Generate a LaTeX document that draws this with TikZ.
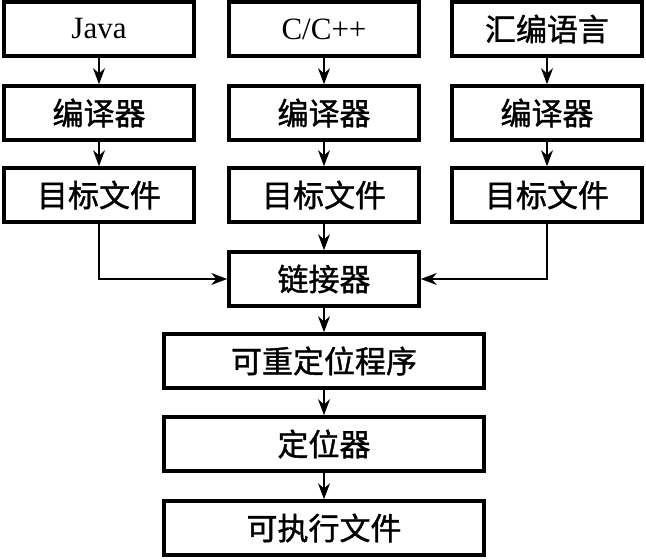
\documentclass[tikz,border=0pt]{standalone}
\usepackage{fontspec}
\setmainfont{Liberation Serif}
\newfontfamily\cjk[FakeBold=1.2]{Noto Sans CJK SC}
\usetikzlibrary{arrows.meta}

\tikzset{
  caja/.style={draw, line width=1.8pt, minimum width=95pt, minimum height=27pt,
    inner sep=0pt, font=\fontsize{15.5}{18}\selectfont},
  cajaancha/.style={caja, minimum width=160pt},
  flecha/.style={line width=0.6pt, -{Stealth[length=8pt,width=6pt]}}
}

\begin{document}
\begin{tikzpicture}[x=0.5pt, y=-0.5pt]
\useasboundingbox (0,0) rectangle (646,560);

% Lenguajes
\node[caja] (java) at (99,29) {Java};
\node[caja] (cpp) at (324,29) {C/C++};
\node[caja] (asm) at (547,29) {\cjk 汇编语言};

% Compiladores
\node[caja] (comp1) at (99,113) {\cjk 编译器};
\node[caja] (comp2) at (324,113) {\cjk 编译器};
\node[caja] (comp3) at (547,113) {\cjk 编译器};

% Ficheros objeto
\node[caja] (obj1) at (99,195) {\cjk 目标文件};
\node[caja] (obj2) at (324,195) {\cjk 目标文件};
\node[caja] (obj3) at (547,195) {\cjk 目标文件};

% Enlazador y salida
\node[caja] (link) at (324,279) {\cjk 链接器};
\node[cajaancha] (reloc) at (324,361) {\cjk 可重定位程序};
\node[cajaancha] (loc) at (324,444) {\cjk 定位器};
\node[cajaancha] (exe) at (324,528) {\cjk 可执行文件};

% Flechas
\draw[flecha] (java) -- (comp1);
\draw[flecha] (cpp) -- (comp2);
\draw[flecha] (asm) -- (comp3);
\draw[flecha] (comp1) -- (obj1);
\draw[flecha] (comp2) -- (obj2);
\draw[flecha] (comp3) -- (obj3);
\draw[flecha] (obj1) |- (link);
\draw[flecha] (obj2) -- (link);
\draw[flecha] (obj3) |- (link);
\draw[flecha] (link) -- (reloc);
\draw[flecha] (reloc) -- (loc);
\draw[flecha] (loc) -- (exe);

\end{tikzpicture}
\end{document}
